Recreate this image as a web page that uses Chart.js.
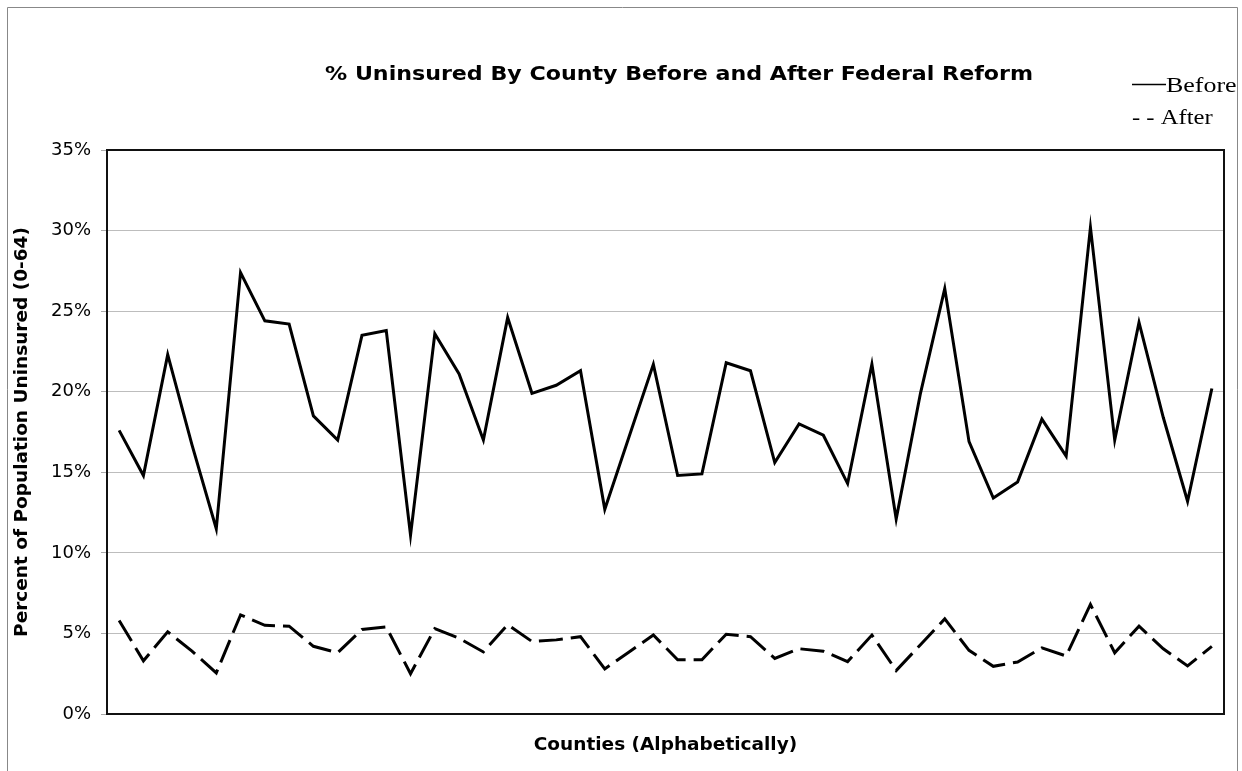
<!DOCTYPE html>
<html lang="en">
<head>
    <meta charset="UTF-8">
    <title>% Uninsured By County</title>
    <script src="https://cdn.jsdelivr.net/npm/chart.js"></script>
    <style>
        html, body { margin: 0; padding: 0; background: #fff; }
        #wrap { width: 1242px; height: 771px; }
    </style>
</head>
<body>
    <div id="wrap"><canvas id="chart" width="1242" height="771"></canvas></div>

    <script>
        // counties are unnamed on the chart, just ordered alphabetically
        const counties = ['1','2','3','4','5','6','7','8','9','10','11','12','13','14','15','16',
            '17','18','19','20','21','22','23','24','25','26','27','28','29','30','31','32',
            '33','34','35','36','37','38','39','40','41','42','43','44','45','46'];

        const before = [17.6, 14.8, 22.3, 16.7, 11.5, 27.4, 24.4, 24.2, 18.5, 17.0,
            23.5, 23.8, 11.1, 23.6, 21.1, 17.0, 24.6, 19.9, 20.4, 21.3,
            12.7, 17.2, 21.7, 14.8, 14.9, 21.8, 21.3, 15.6, 18.0, 17.3,
            14.3, 21.7, 12.1, 19.9, 26.4, 16.9, 13.4, 14.4, 18.3, 16.0,
            30.2, 17.0, 24.3, 18.4, 13.2, 20.2];

        const after = [5.8, 3.3, 5.1, 3.9, 2.55, 6.15, 5.5, 5.45, 4.2, 3.8,
            5.25, 5.4, 2.5, 5.3, 4.7, 3.85, 5.55, 4.5, 4.6, 4.8,
            2.8, 3.85, 4.9, 3.37, 3.37, 4.95, 4.8, 3.45, 4.05, 3.9,
            3.25, 4.9, 2.7, 4.3, 5.9, 3.95, 2.96, 3.23, 4.1, 3.6,
            6.8, 3.8, 5.45, 4.05, 2.98, 4.2];

        const yTicks = [0, 5, 10, 15, 20, 25, 30, 35];

        const titleText = '% Uninsured By County Before and After Federal Reform';
        const sansFont = '"DejaVu Sans", Verdana, sans-serif';
        const serifFont = '"Liberation Serif", "Times New Roman", serif';

        // frame, plot box, title and the little serif legend
        const decorations = {
            id: 'decorations',
            beforeDraw(chart) {
                const ctx = chart.ctx;
                ctx.save();
                ctx.fillStyle = '#fff';
                ctx.fillRect(0, 0, chart.width, chart.height);
                ctx.strokeStyle = '#888';
                ctx.lineWidth = 1;
                ctx.beginPath();
                ctx.moveTo(7.5, chart.height + 2);
                ctx.lineTo(7.5, 7.5);
                ctx.lineTo(1237.5, 7.5);
                ctx.lineTo(1237.5, chart.height + 2);
                ctx.stroke();
                ctx.restore();
            },
            afterDraw(chart) {
                const ctx = chart.ctx;
                const a = chart.chartArea;
                ctx.save();
                ctx.strokeStyle = '#111';
                ctx.lineWidth = 2;
                ctx.strokeRect(a.left, a.top, a.right - a.left, a.bottom - a.top);

                // title is Verdana-wide in the original, stretch DejaVu to fit
                ctx.fillStyle = '#000';
                ctx.font = 'bold 20px ' + sansFont;
                ctx.textAlign = 'center';
                ctx.textBaseline = 'middle';
                const tw = ctx.measureText(titleText).width;
                ctx.save();
                ctx.translate(679, 75);
                ctx.scale(708 / tw, 1);
                ctx.fillText(titleText, 0, 0);
                ctx.restore();

                // legend, plain serif text like the original
                ctx.lineWidth = 1.5;
                ctx.strokeStyle = '#000';
                ctx.beginPath();
                ctx.moveTo(1132, 84.5);
                ctx.lineTo(1166, 84.5);
                ctx.stroke();

                ctx.font = '22px ' + serifFont;
                ctx.textAlign = 'left';
                ctx.textBaseline = 'alphabetic';
                ctx.save();
                ctx.translate(1166, 92);
                ctx.scale(1.18, 1);
                ctx.fillText('Before', 0, 0);
                ctx.restore();
                ctx.save();
                ctx.translate(1132, 124);
                ctx.scale(1.12, 1);
                ctx.fillText('- - After', 0, 0);
                ctx.restore();
                ctx.restore();
            }
        };

        new Chart(document.getElementById('chart'), {
            type: 'line',
            data: {
                labels: counties,
                datasets: [{
                    label: 'Before',
                    data: before,
                    borderColor: '#000',
                    borderWidth: 3,
                    pointRadius: 0,
                    tension: 0,
                    fill: false
                }, {
                    label: 'After',
                    data: after,
                    borderColor: '#000',
                    borderWidth: 3,
                    borderDash: [24, 8],
                    pointRadius: 0,
                    tension: 0,
                    fill: false
                }]
            },
            options: {
                responsive: false,
                animation: false,
                layout: { padding: { top: 150, right: 18, bottom: 0, left: 0 } },
                plugins: {
                    legend: { display: false },
                    title: { display: false },
                    tooltip: { enabled: false }
                },
                scales: {
                    x: {
                        offset: true,
                        grid: { display: false },
                        border: { display: true, color: '#111', width: 2 },
                        ticks: { display: false },
                        title: {
                            display: true,
                            text: 'Counties (Alphabetically)',
                            color: '#000',
                            font: { family: sansFont, size: 18.5, weight: 'bold' },
                            padding: { top: 0, bottom: 15 }
                        },
                        afterFit(scale) { scale.height = 57; }
                    },
                    y: {
                        min: 0,
                        max: 35,
                        afterBuildTicks(scale) {
                            scale.ticks = yTicks.map(v => ({ value: v }));
                        },
                        grid: {
                            color: '#bdbdbd',
                            lineWidth: 1,
                            tickLength: 6,
                            tickColor: '#aaa'
                        },
                        border: { display: true, color: '#111', width: 2 },
                        ticks: {
                            color: '#000',
                            padding: 10,
                            font: { family: sansFont, size: 18 },
                            callback: v => v + '%'
                        },
                        title: {
                            display: true,
                            text: 'Percent of Population Uninsured (0-64)',
                            color: '#000',
                            font: { family: sansFont, size: 18.5, weight: 'bold' },
                            padding: { top: 11, bottom: 0 }
                        },
                        afterFit(scale) { scale.width = 107; }
                    }
                }
            },
            plugins: [decorations]
        });
    </script>
</body>
</html>
